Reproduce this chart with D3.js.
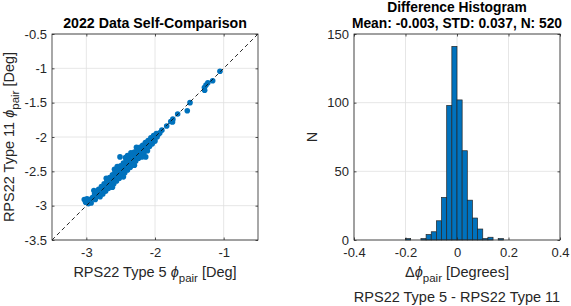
<!DOCTYPE html>
<html>
<head>
<meta charset="utf-8">
<script src="https://cdn.jsdelivr.net/npm/d3@7"></script>
<style>
  html, body { margin: 0; padding: 0; background: #ffffff; }
  text { font-family: "Liberation Sans", Arial, Helvetica, sans-serif; }
</style>
</head>
<body>
<script>
// ---------------- DATA ----------------
// Scatter: [RPS22 Type 5 phi_pair, RPS22 Type 11 phi_pair] (degrees)
const scatterPairs = [
  [-3.03,-2.91],[-3.01,-2.95],[-2.99,-2.90],[-2.97,-2.97],[-2.95,-2.91],[-2.93,-2.96],
  [-2.91,-2.88],[-2.89,-2.78],[-2.88,-2.83],[-2.87,-2.91],[-2.85,-2.80],[-2.84,-2.86],
  [-2.82,-2.76],[-2.81,-2.84],[-2.80,-2.87],[-2.78,-2.72],[-2.77,-2.78],[-2.76,-2.83],
  [-2.74,-2.68],[-2.73,-2.74],[-2.72,-2.79],[-2.71,-2.60],[-2.70,-2.63],[-2.69,-2.70],
  [-2.68,-2.75],[-2.66,-2.59],[-2.65,-2.66],[-2.64,-2.72],[-2.63,-2.61],[-2.62,-2.73],
  [-2.62,-2.55],[-2.61,-2.62],[-2.60,-2.68],[-2.59,-2.47],[-2.58,-2.50],[-2.57,-2.58],
  [-2.56,-2.64],[-2.55,-2.53],[-2.55,-2.43],[-2.54,-2.46],[-2.53,-2.54],[-2.52,-2.60],
  [-2.51,-2.29],[-2.50,-2.42],[-2.49,-2.49],[-2.48,-2.57],[-2.47,-2.50],[-2.46,-2.58],
  [-2.46,-2.38],[-2.45,-2.45],[-2.44,-2.52],[-2.43,-2.30],[-2.42,-2.33],[-2.41,-2.42],
  [-2.40,-2.48],[-2.40,-2.27],[-2.39,-2.36],[-2.38,-2.30],[-2.37,-2.38],[-2.36,-2.44],
  [-2.35,-2.23],[-2.34,-2.26],[-2.33,-2.34],[-2.32,-2.40],[-2.31,-2.27],[-2.30,-2.41],
  [-2.30,-2.22],[-2.29,-2.30],[-2.28,-2.35],[-2.27,-2.15],[-2.26,-2.19],[-2.25,-2.26],
  [-2.24,-2.31],[-2.23,-2.19],[-2.22,-2.15],[-2.21,-2.22],[-2.20,-2.27],[-2.19,-2.29],
  [-2.18,-2.12],[-2.17,-2.18],[-2.16,-2.23],[-2.135,-2.29],[-2.14,-2.08],[-2.13,-2.14],
  [-2.12,-2.18],[-2.11,-2.20],[-2.10,-2.05],[-2.09,-2.10],[-2.08,-2.14],[-2.06,-2.01],
  [-2.05,-2.06],[-2.04,-2.10],[-2.02,-1.98],[-2.01,-2.03],[-2.00,-2.06],[-1.98,-1.95],
  [-1.97,-2.00],[-1.95,-1.96],[-1.93,-1.94],[-1.90,-1.90],[-1.83,-1.84],[-1.77,-1.775],
  [-1.745,-1.78],[-1.74,-1.74],[-1.67,-1.665],[-1.53,-1.617],[-1.49,-1.50],[-1.28,-1.28],
  [-1.277,-1.32],[-1.257,-1.243],[-1.23,-1.21],[-1.16,-1.18],[-1.054,-1.043]
];
const diagonalEnds = [-3.5, -0.5];

const scatterXTicks = [-3, -2, -1];
const scatterYTicks = [-3.5, -3, -2.5, -2, -1.5, -1, -0.5];

// Histogram of differences (Type 5 - Type 11), bin width 0.02
const histBinLefts = [-0.20,-0.18,-0.16,-0.14,-0.12,-0.10,-0.08,-0.06,-0.04,-0.02,
                      0.00,0.02,0.04,0.06,0.08,0.10,0.12,0.14,0.16];
const histCounts   = [1,0,0,1,4,6,14,31,98,141,102,65,29,16,8,1,2,0,1];
const histBinWidth = 0.02;
const histXTicks = [-0.4, -0.2, 0, 0.2, 0.4];
const histYTicks = [0, 50, 100, 150];

// ---------------- DRAWING ----------------
const W = 571, H = 306;
const svg = d3.select("body").append("svg").attr("width", W).attr("height", H);

const axisColor = "#262626";
const gridColor = "#e0e0e0";
const blue = "#0072BD";
const fmt = d => String(d);

function drawFrame(g, x, y, xTicks, yTicks) {
  const [x0, x1] = x.range();
  const [y1, y0] = y.range();
  g.append("g").selectAll("line").data(xTicks).join("line")
    .attr("x1", d => x(d)).attr("x2", d => x(d)).attr("y1", y0).attr("y2", y1)
    .attr("stroke", gridColor).attr("stroke-width", 0.8);
  g.append("g").selectAll("line").data(yTicks).join("line")
    .attr("y1", d => y(d)).attr("y2", d => y(d)).attr("x1", x0).attr("x2", x1)
    .attr("stroke", gridColor).attr("stroke-width", 0.8);
}

function drawAxes(g, x, y, xTicks, yTicks) {
  const [x0, x1] = x.range();
  const [y1, y0] = y.range();
  const tk = 2.5;
  const styleAxis = sel => {
    sel.select(".domain").remove();
    sel.selectAll(".tick line").attr("stroke", axisColor).attr("stroke-width", 0.8);
    sel.selectAll(".tick text").attr("fill", axisColor).attr("font-size", 13)
      .style("font-family", '"Liberation Sans", Arial, sans-serif');
  };
  g.append("g").attr("transform", `translate(0,${y1})`)
    .call(d3.axisBottom(x).tickValues(xTicks).tickFormat(fmt).tickSize(-tk).tickPadding(8))
    .call(styleAxis);
  g.append("g").attr("transform", `translate(0,${y0})`)
    .call(d3.axisTop(x).tickValues(xTicks).tickFormat("").tickSize(-tk))
    .call(styleAxis);
  g.append("g").attr("transform", `translate(${x0},0)`)
    .call(d3.axisLeft(y).tickValues(yTicks).tickFormat(fmt).tickSize(-tk).tickPadding(5))
    .call(styleAxis);
  g.append("g").attr("transform", `translate(${x1},0)`)
    .call(d3.axisRight(y).tickValues(yTicks).tickFormat("").tickSize(-tk))
    .call(styleAxis);
  g.append("rect").attr("x", x0).attr("y", y0).attr("width", x1 - x0).attr("height", y1 - y0)
    .attr("fill", "none").attr("stroke", axisColor).attr("stroke-width", 0.8);
}

// ---- Left: scatter ----
const xL = d3.scaleLinear().domain([-3.5, -0.5]).range([52, 258]);
const yL = d3.scaleLinear().domain([-3.5, -0.5]).range([240, 34]);
const gL = svg.append("g");
drawFrame(gL, xL, yL, scatterXTicks, scatterYTicks);

gL.append("g").selectAll("circle").data(scatterPairs).join("circle")
  .attr("cx", d => xL(d[0])).attr("cy", d => yL(d[1])).attr("r", 2.8)
  .attr("fill", blue);

gL.append("path")
  .datum(diagonalEnds)
  .attr("d", d3.line().x(d => xL(d)).y(d => yL(d)))
  .attr("fill", "none").attr("stroke", "#111").attr("stroke-width", 0.9)
  .attr("stroke-dasharray", "4,3");

drawAxes(gL, xL, yL, scatterXTicks, scatterYTicks);

gL.append("text").attr("x", 155).attr("y", 28).attr("text-anchor", "middle")
  .attr("font-size", 14.2).attr("font-weight", "bold").attr("fill", "#000")
  .text("2022 Data Self-Comparison");

const xlabL = gL.append("text").attr("x", 155).attr("y", 277).attr("text-anchor", "middle")
  .attr("font-size", 14.5).attr("fill", axisColor);
xlabL.append("tspan").text("RPS22 Type 5 ");
xlabL.append("tspan").attr("font-style", "italic").text("ϕ");
xlabL.append("tspan").attr("font-size", 11.5).attr("dy", 5).text("pair");
xlabL.append("tspan").attr("dy", -5).text(" [Deg]");

const ylabL = gL.append("text").attr("transform", "translate(14,137) rotate(-90)")
  .attr("text-anchor", "middle").attr("font-size", 14.5).attr("fill", axisColor);
ylabL.append("tspan").text("RPS22 Type 11 ");
ylabL.append("tspan").attr("font-style", "italic").text("ϕ");
ylabL.append("tspan").attr("font-size", 11.5).attr("dy", 5).text("pair");
ylabL.append("tspan").attr("dy", -5).text(" [Deg]");

// ---- Right: histogram ----
const xR = d3.scaleLinear().domain([-0.4, 0.4]).range([354, 560]);
const yR = d3.scaleLinear().domain([0, 150]).range([240, 34]);
const gR = svg.append("g");
drawFrame(gR, xR, yR, histXTicks, histYTicks);

const bins = histBinLefts.map((l, i) => ({ x0: l, x1: l + histBinWidth, n: histCounts[i] }))
  .filter(b => b.n > 0);
gR.append("g").selectAll("rect").data(bins).join("rect")
  .attr("x", d => xR(d.x0)).attr("width", d => xR(d.x1) - xR(d.x0))
  .attr("y", d => yR(d.n)).attr("height", d => yR(0) - yR(d.n))
  .attr("fill", blue).attr("stroke", axisColor).attr("stroke-width", 0.7);

drawAxes(gR, xR, yR, histXTicks, histYTicks);

gR.append("text").attr("x", 457).attr("y", 12).attr("text-anchor", "middle")
  .attr("font-size", 13.8).attr("font-weight", "bold").attr("fill", "#000")
  .text("Difference Histogram");
gR.append("text").attr("x", 457).attr("y", 28).attr("text-anchor", "middle")
  .attr("font-size", 13.8).attr("font-weight", "bold").attr("fill", "#000")
  .text("Mean: -0.003, STD: 0.037, N: 520");

const xlabR = gR.append("text").attr("x", 457).attr("y", 277).attr("text-anchor", "middle")
  .attr("font-size", 14.5).attr("fill", axisColor);
xlabR.append("tspan").text("Δ");
xlabR.append("tspan").attr("font-style", "italic").text("ϕ");
xlabR.append("tspan").attr("font-size", 11.5).attr("dy", 5).text("pair");
xlabR.append("tspan").attr("dy", -5).text(" [Degrees]");

gR.append("text").attr("x", 457).attr("y", 302).attr("text-anchor", "middle")
  .attr("font-size", 14.5).attr("fill", axisColor)
  .text("RPS22 Type 5 - RPS22 Type 11");

gR.append("text").attr("transform", "translate(317,137) rotate(-90)")
  .attr("text-anchor", "middle").attr("font-size", 14.5).attr("fill", axisColor)
  .text("N");
</script>
</body>
</html>
